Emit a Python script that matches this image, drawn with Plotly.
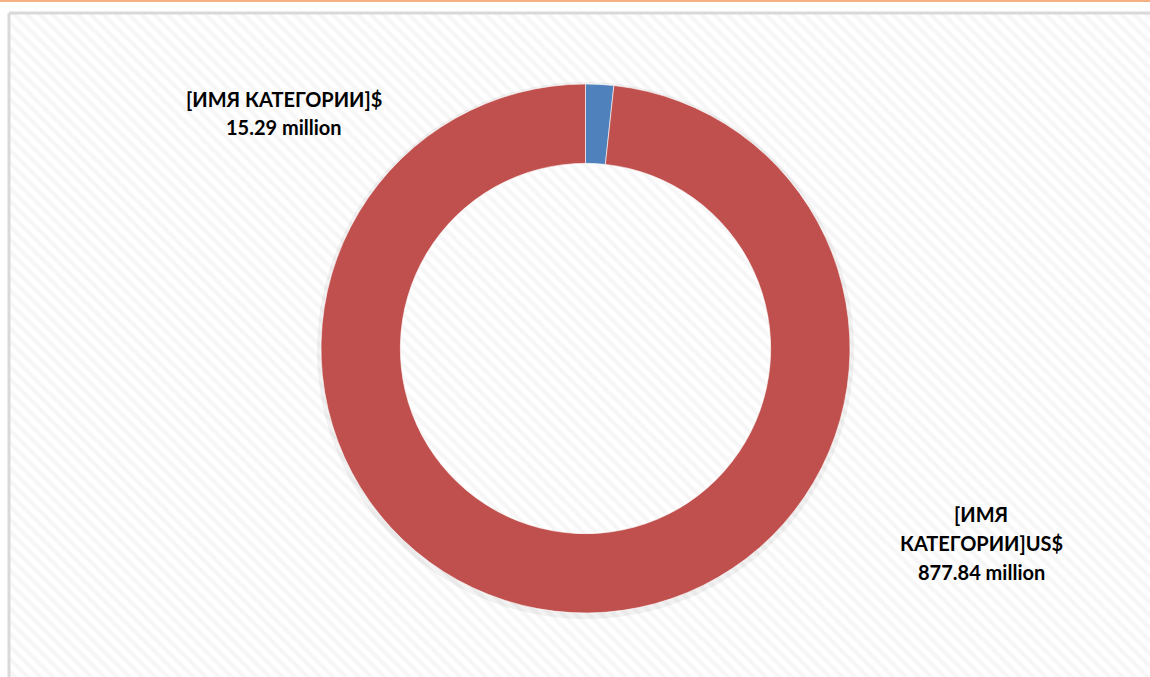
import plotly.graph_objects as go

categories = ["[ИМЯ КАТЕГОРИИ]$", "[ИМЯ КАТЕГОРИИ]US$"]
values = [15.29, 877.84]
value_labels = ["15.29 million", "877.84 million"]
colors = ["#4F81BD", "#C0504D"]

W, H = 1150, 677

fig = go.Figure()

# hatched chart-area background
x0p, y1p = 9 / W, 1 - 13 / H
fig.add_trace(go.Scatter(
    x=[x0p, 1.01, 1.01, x0p, x0p], y=[-0.01, -0.01, y1p, y1p, -0.01],
    mode="lines", fill="toself", line=dict(width=0), fillcolor="white",
    fillpattern=dict(shape="\\", size=9, solidity=0.45, fgcolor="#EDEDED", bgcolor="white"),
    hoverinfo="skip", showlegend=False,
))

# soft shadow ring around donut
cx, cy, r = 585.5, 348.5, 264.5
fig.add_trace(go.Pie(
    values=[1], marker=dict(colors=["rgba(0,0,0,0.05)"], line=dict(width=0)),
    hole=(r - 6) / (r + 4), textinfo="none", hoverinfo="skip", sort=False, showlegend=False,
    domain=dict(x=[(cx - r - 4) / W, (cx + r + 4) / W], y=[1 - (cy + r + 6) / H, 1 - (cy - r - 2) / H]),
))

fig.add_trace(go.Pie(
    labels=categories, values=values, sort=False, direction="clockwise", rotation=0,
    hole=0.70, textinfo="none",
    marker=dict(colors=colors, line=dict(color="rgba(255,255,255,0.6)", width=1)),
    domain=dict(x=[(cx - r) / W, (cx + r) / W], y=[1 - (cy + r) / H, 1 - (cy - r) / H]),
    showlegend=False,
))

font = dict(family="Lato, Carlito, Calibri, sans-serif", size=20, color="#000000")


def add_lines(lines, xc, ys):
    for txt, yy in zip(lines, ys):
        fig.add_annotation(
            x=xc / W, y=1 - yy / H, xref="paper", yref="paper", showarrow=False,
            xanchor="center", yanchor="middle", text=f"<b>{txt}</b>", font=font,
        )


name2 = categories[1].split(" ", 1)
add_lines([categories[0], value_labels[0]], 284, [99, 127])
add_lines([name2[0], name2[1], value_labels[1]], 981, [514, 543, 572])

fig.update_layout(
    width=W, height=H, margin=dict(l=0, r=0, t=0, b=0),
    paper_bgcolor="white", plot_bgcolor="white",
    xaxis=dict(range=[0, 1], visible=False, fixedrange=True, domain=[0, 1]),
    yaxis=dict(range=[0, 1], visible=False, fixedrange=True, domain=[0, 1]),
    shapes=[
        dict(type="line", xref="paper", yref="paper", x0=0, x1=1, y0=1 - 1 / H, y1=1 - 1 / H,
             line=dict(color="#F4B183", width=2)),
        dict(type="line", xref="paper", yref="paper", x0=x0p, x1=1.01, y0=y1p, y1=y1p,
             line=dict(color="#D9D9D9", width=3)),
        dict(type="line", xref="paper", yref="paper", x0=x0p, x1=x0p, y0=-0.01, y1=y1p,
             line=dict(color="#D9D9D9", width=3)),
    ],
)

fig.write_html("out.html")
